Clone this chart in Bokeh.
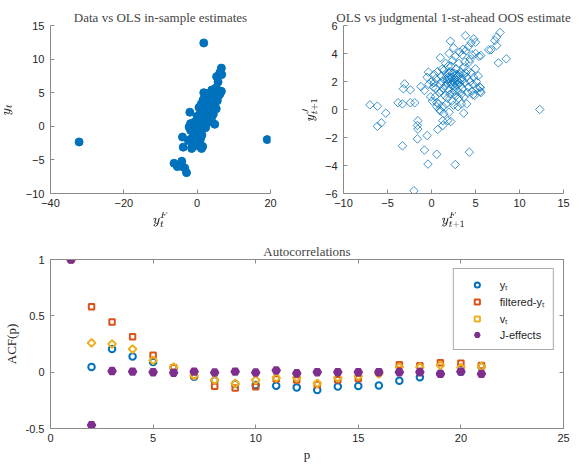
import math
from bokeh.plotting import figure
from bokeh.layouts import column, row
from bokeh.models import (Range1d, FixedTicker, LinearAxis, Legend, LegendItem,
                          NumeralTickFormatter)
from bokeh.embed import file_html
from bokeh.resources import INLINE

# ---------------- data: top-left (data vs OLS in-sample) ----------------
ins_x = [-32.2, 19.1, 1.8, 6.6, 6.2, 6.7, 5.3, 5.7, 5.1, 6.6, 6.2, 1.8, 2.5, -2.0, -1.8, -2.2,
         -4.0, -3.8, -2.4, -1.3, -1.5, 1.2, 1.5, 4.8, -6.3, -5.4, -4.2, -4.0, -3.4, -2.9,
         -1.0, -0.5, 0.0, 0.3, -0.3, 0.5, 0.8, 1.0, 0.2, 0.6,
         1.2, 1.5, 0.9, 1.8, 2.0, 2.2, 1.4, 2.5, 2.8, 3.0,
         2.4, 3.3, 3.6, 3.8, 3.0, 4.1, 4.3, 4.6, 4.0, 3.4,
         2.6, 1.7, 1.0, 0.4, -0.2, 0.7, -1.2, -0.8, 0.0, 0.5,
         1.1, 1.6, 2.1, 2.7, 3.5, 4.8, 5.2, 5.5, 5.0, 4.4,
         3.9, 3.1, 2.3, 1.3, -0.6, 0.1, -1.5, -1.8, 1.9, 2.9,
         3.7, 1.2, 0.3, 2.0, 2.5, 3.2, 0.8, 1.5, -0.4, 2.6,
         3.4, 4.7, 5.8, 5.6, 4.0, 2.2, 1.0, 3.0, 1.8, 0.5,
         -0.9, -1.3, 0.9]
ins_y = [-2.33, -1.98, 12.4, 8.66, 8.0, 7.7, 7.4, 6.6, 5.7, 5.2, 4.8, 5.0, 4.4, 2.1, 0.4, -0.1,
         -1.6, -3.1, -2.1, -2.8, -3.3, -3.3, -3.0, 0.3, -5.5, -6.0, -5.2, -6.0, -6.2, -6.9,
         -1.5, -1.0, -1.2, -0.5, 0.0, 0.2, -0.3, 0.5, 0.8, 1.2,
         1.0, 1.6, 2.0, 2.2, 1.3, 2.8, 2.6, 3.0, 2.2, 3.5,
         3.8, 4.0, 3.2, 4.5, 4.6, 3.8, 4.8, 4.2, 2.5, 2.0,
         1.0, 0.2, -0.8, -1.8, -2.0, -2.4, -0.6, 0.6, 1.5, 2.8,
         3.3, 3.9, 4.4, 4.9, 5.0, 3.0, 2.6, 3.8, 4.9, 1.8,
         1.2, 0.6, -0.2, -1.3, -2.6, -2.9, -1.8, -0.6, 0.9, 1.6,
         2.8, 1.9, 0.3, 3.2, 2.4, 3.0, 1.6, 0.6, -0.7, 3.5,
         4.3, 5.2, 4.5, 5.4, 5.4, 1.9, 2.5, 2.5, 1.4, -0.2,
         0.2, -2.4, -1.9]

# ---------------- data: top-right (OLS vs judgmental OOS) ----------------
oos_x = [-7.0, -6.15, -6.15, -5.7, -5.2, -3.8, -3.3, -3.3, -3.05, -3.2,
         -2.4, -2.4, -1.9, -1.6, -1.55, -1.55, -1.6, -1.2, -0.8, -0.8,
         -0.5, -0.4, -2.0, -0.35, 0.6, 0.7, 1.28, 1.28, 1.85, 2.2,
         2.7, 4.3, 3.66, 4.7, 5.55, 5.55, 5.6, 6.5, 6.75, 7.2,
         7.4, 7.8, 7.4, 7.6, 8.5, 12.3, 3.85, 2.15, 4.8, 4.5,
         5.0, 1.0,
         0.0, 0.3, 0.5, 0.2, 0.4, 0.1, 0.6, 0.8, 0.9, 1.0,
         1.1, 1.2, 1.3, 1.4, 1.5, 1.6, 1.7, 1.8, 1.9, 2.0,
         2.0, 2.1, 2.2, 2.3, 2.4, 2.4, 2.5, 2.6, 2.7, 2.8,
         2.9, 3.0, 3.0, 3.1, 3.2, 3.3, 3.4, 3.5, 3.5, 3.6,
         3.7, 3.8, 3.9, 4.0, 4.1, 4.2, 4.3, 4.4, 4.5, 4.6,
         4.7, 4.8, 5.0, 5.1, 5.2, 5.4, 5.6, 5.5, 0.7, 1.2,
         1.5, 1.6, 1.8, 2.0, 2.2, 2.3, 2.5, 2.7, 2.8, 2.9,
         3.1, 3.2, 3.4, 3.6, 3.8, 4.0, 4.2, 4.4, 4.6, 5.0,
         1.3, 1.7, 2.1, 2.6, 1.9, 2.4, 2.8, 3.3, 3.9, 1.1,
         0.5, 0.3, -0.3, -0.5, -0.1, 0.6, 0.9, 1.4, 2.0, 1.0,
         2.5, 3.0, 3.4, 4.9, 5.3, 4.1, 3.7, 2.2, 2.6, 3.0,
         2.4, 1.8, 2.9, 3.5, 2.0, 2.7, 3.2]
oos_y = [0.33, 0.24, -1.2, -0.95, -0.26, 0.48, 0.4, -2.6, 1.83, 1.48,
         1.4, 0.48, 0.48, -1.14, -0.8, -1.4, -2.1, 1.64, 1.36, -2.9,
         -1.86, -3.9, -5.8, 2.67, -3.2, -1.43, -1.14, -0.8, -0.8, -0.86,
         -3.93, -3.05, -0.26, 1.05, 1.3, 1.55, 3.86, 4.26, 4.26, 4.93,
         5.17, 5.5, 4.57, 3.33, 3.62, 0.0, 5.28, 4.88, 5.05, 4.76,
         4.8, 3.7,
         2.0, 1.9, 2.2, 1.6, 0.9, 0.6, 0.5, 0.4, 1.2, 1.8,
         2.4, 2.0, 1.5, 2.8, 2.2, 1.7, 2.5, 1.9, 3.1, 2.2,
         1.4, 2.7, 1.8, 2.3, 3.5, 1.2, 2.0, 2.6, 1.6, 2.9,
         2.1, 2.4, 1.3, 3.3, 1.9, 2.7, 2.2, 3.9, 1.5, 2.5,
         3.0, 1.9, 4.2, 2.3, 2.8, 1.6, 3.4, 2.0, 2.6, 3.9,
         1.8, 2.3, 2.9, 2.0, 1.5, 3.8, 1.2, 1.6, 2.7, 2.9,
         1.0, 3.3, 0.8, 4.0, 3.1, 0.6, 4.4, 3.8, 1.0, 2.5,
         0.8, 4.1, 1.1, 4.3, 3.4, 0.4, 4.5, 3.6, 1.3, 4.0,
         0.2, 0.4, 1.1, 1.3, 2.3, 2.6, 2.3, 1.7, 2.6, 1.3,
         1.5, 2.5, 1.8, 2.3, 0.9, 0.2, 0.0, -0.3, -0.2, -0.1,
         0.3, 0.2, 0.4, 1.0, 2.4, 1.2, 0.9, 2.0, 1.9, 2.0,
         1.7, 2.1, 1.8, 2.1, 2.6, 2.2, 2.5]

# ---------------- data: autocorrelations ----------------
lags = list(range(1, 22))
acf_y = [1.0, 0.045, 0.205, 0.14, 0.09, 0.04, -0.04, -0.075, -0.105, -0.115, -0.12,
         -0.135, -0.158, -0.128, -0.122, -0.119, -0.077, -0.045, -0.015, 0.003, 0.05]
acf_filtered = [1.0, 0.58, 0.445, 0.315, 0.15, 0.04, -0.03, -0.125, -0.14, -0.13, -0.06,
                -0.07, -0.11, -0.068, -0.057, 0.0, 0.065, 0.057, 0.083, 0.08, 0.06]
acf_v = [1.0, 0.26, 0.25, 0.205, 0.105, 0.045, -0.03, -0.07, -0.1, -0.07, -0.05,
         -0.05, -0.1, -0.05, -0.036, -0.015, 0.045, 0.045, 0.06, 0.04, 0.05]
acf_j = [1.0, -0.47, 0.01, 0.005, 0.0, -0.005, 0.005, -0.003, 0.005, -0.003, 0.015,
         -0.01, 0.0, 0.0, 0.0, 0.0, 0.0, 0.0, -0.015, 0.005, -0.015]
legend_labels = ["y\u209c", "filtered-y\u209c", "v\u209c", "J-effects"]

BLUE = "#0072BD"
RED = "#D95319"
YELLOW = "#EDB120"
PURPLE = "#7E2F8E"
AXIS_COL = "#8a8a8a"
TICK_FONT = "Liberation Sans"
SERIF = "Liberation Serif"


def style(p, xticks, yticks, xlabel, ylabel):
    p.grid.visible = False
    p.outline_line_color = None
    p.background_fill_color = "white"
    p.border_fill_color = "white"
    p.title.text_font = SERIF
    p.title.text_font_style = "normal"
    p.title.text_font_size = "13px"
    p.title.align = "center"
    p.title.standoff = 2
    p.xaxis.ticker = FixedTicker(ticks=xticks)
    p.yaxis.ticker = FixedTicker(ticks=yticks)
    for ax in (p.xaxis[0], p.yaxis[0]):
        ax.axis_line_color = AXIS_COL
        ax.major_tick_line_color = AXIS_COL
        ax.major_tick_in = 4
        ax.major_tick_out = 0
        ax.minor_tick_line_color = None
        ax.major_label_text_font = TICK_FONT
        ax.major_label_text_font_size = "11px"
        ax.major_label_text_color = "#262626"
        ax.axis_label_text_font = SERIF
        ax.axis_label_text_font_style = "normal"
        ax.axis_label_text_font_size = "13px"
        ax.axis_label_text_color = "#262626"
    p.xaxis.major_label_standoff = 5
    p.yaxis.major_label_standoff = 6
    p.xaxis.axis_label = xlabel
    p.yaxis.axis_label = ylabel
    p.xaxis.axis_label_standoff = 2
    p.yaxis.axis_label_standoff = 4


# ---- top left ----
p1 = figure(width=290, height=230, output_backend="svg", toolbar_location=None,
            x_range=Range1d(-40, 20), y_range=Range1d(-10, 15),
            min_border_left=50, min_border_right=20, min_border_top=25, min_border_bottom=37,
            title="Data vs OLS in-sample estimates")
p1.scatter(ins_x, ins_y, marker="circle", size=8, fill_color=BLUE, line_color=BLUE)
style(p1, [-40, -20, 0, 20], [-10, -5, 0, 5, 10, 15], r"$$y_t^F$$", r"$$y_t$$")

# ---- top right ----
p2 = figure(width=289, height=230, output_backend="svg", toolbar_location=None,
            x_range=Range1d(-10, 15), y_range=Range1d(-6, 6),
            min_border_left=53, min_border_right=16, min_border_top=25, min_border_bottom=37,
            title="OLS vs judgmental 1-st-ahead OOS estimate")
p2.scatter(oos_x, oos_y, marker="square", angle=math.pi / 4, size=6, fill_color=None,
           line_color=BLUE, line_width=1, line_alpha=0.75)
style(p2, [-10, -5, 0, 5, 10, 15], [-6, -4, -2, 0, 2, 4, 6], r"$$y_{t+1}^F$$", r"$$y_{t+1}^J$$")

# ---- bottom ----
p3 = figure(width=579, height=234, output_backend="svg", toolbar_location=None,
            x_range=Range1d(0, 25), y_range=Range1d(-0.5, 1),
            min_border_left=50, min_border_right=16, min_border_top=29, min_border_bottom=35,
            title="Autocorrelations")
r1 = p3.scatter(lags, acf_y, marker="circle", size=6.5, fill_color=None, line_color=BLUE, line_width=2)
r2 = p3.scatter(lags, acf_filtered, marker="square", size=5.5, fill_color=None, line_color=RED, line_width=2)
r3 = p3.scatter(lags, acf_v, marker="square", angle=math.pi / 4, size=5.5, fill_color=None,
                line_color=YELLOW, line_width=2)
r4 = p3.scatter(lags, acf_j, marker="hex", size=8, fill_color=PURPLE, line_color=PURPLE, line_width=1.5)
style(p3, [0, 5, 10, 15, 20, 25], [-0.5, 0, 0.5, 1], "p", "ACF(p)")
p3.yaxis.formatter = NumeralTickFormatter(format="0.[0]")
p3.outline_line_color = AXIS_COL
for loc, ticks in (("above", [0, 5, 10, 15, 20, 25]), ("right", [-0.5, 0, 0.5, 1])):
    ax = LinearAxis(ticker=FixedTicker(ticks=ticks))
    ax.major_label_overrides = {t: "" for t in ticks}
    ax.axis_line_color = AXIS_COL
    ax.major_tick_line_color = AXIS_COL
    ax.major_tick_in = 4
    ax.major_tick_out = 0
    ax.minor_tick_line_color = None
    ax.major_label_standoff = 0
    p3.add_layout(ax, loc)

legend = Legend(items=[LegendItem(label=legend_labels[0], renderers=[r1]),
                       LegendItem(label=legend_labels[1], renderers=[r2]),
                       LegendItem(label=legend_labels[2], renderers=[r3]),
                       LegendItem(label=legend_labels[3], renderers=[r4])],
                location="top_right", margin=9)
legend.label_text_font = TICK_FONT
legend.label_text_font_size = "11px"
legend.label_text_color = "#262626"
legend.glyph_width = 30
legend.glyph_height = 13
legend.label_height = 13
legend.spacing = 2
legend.padding = 8
legend.label_standoff = 8
legend.border_line_color = "#555555"
legend.border_line_width = 1
legend.background_fill_color = "white"
p3.add_layout(legend)

layout = column(row(p1, p2), p3)
open("out.html", "w").write(file_html(layout, INLINE))
